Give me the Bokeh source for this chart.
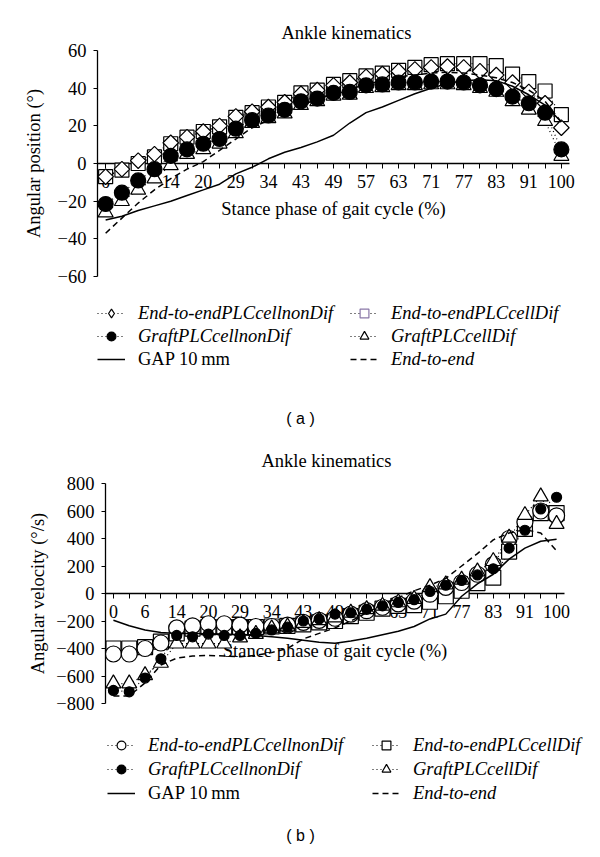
import math
from bokeh.plotting import figure
from bokeh.models import Range1d, LinearAxis, FixedTicker, Label, Legend, LegendItem
from bokeh.layouts import column, row
from bokeh.embed import file_html
from bokeh.resources import INLINE

# ---------------- data ----------------
stance_pct = [0, 3, 6, 10, 14, 17, 20, 26, 29, 31, 34, 40, 43, 46, 49, 54, 57,
              60, 63, 69, 71, 74, 77, 80, 83, 89, 91, 94, 100]

# (a) angular position (deg)
pos_e2e_nondif = [-7, -3, 1.5, 5, 11, 14, 17, 20, 25, 27.5, 30, 32.5, 37, 39, 41.5,
                  43, 46, 47.5, 49, 50, 51, 51.5, 51, 49, 47, 43, 38, 32, 19]
pos_e2e_dif = [-7, -3.5, 0, 3.5, 10.5, 14, 17, 19.5, 24.5, 27, 30, 32.5, 37.5, 39, 42,
               44, 46.5, 48, 49.5, 51, 52.5, 53, 53, 53, 52, 47.5, 43.5, 38.5, 26]
pos_graft_nondif = [-21.5, -15.5, -9, -3, 4, 7.5, 10.5, 13, 18.5, 23, 25.5, 28.5, 33,
                    34.5, 37.5, 38, 41.5, 42, 43, 43, 43.5, 43.5, 43, 41.5, 39.5, 35.5,
                    32, 27, 7.5]
pos_graft_dif = [-26, -20, -14, -8, -1, 5, 7.5, 10.5, 16, 21.5, 24, 26.5, 31, 33, 36,
                 36.5, 40, 40.5, 41.5, 41.5, 42, 42, 41.5, 40, 38, 33, 28.5, 22.5, 4]
pos_gap10 = [-30, -28, -25, -22.5, -20, -17, -14, -11, -5.5, -2, 2.5, 6, 8.5, 11.5, 15,
             21.5, 27, 30, 33.5, 37, 40, 42.5, 44, 44.5, 44, 41, 36.5, 31, 22]
pos_end_to_end = [-37, -29, -21, -14, -8, -3, 1, 7, 13, 19, 23, 27, 31, 34, 37, 39.5,
                  42, 44, 46, 47, 48, 48.5, 48, 47, 45.5, 43, 39, 33, 22]
pos_ticks = [-60, -40, -20, 0, 20, 40, 60]

# (b) angular velocity (deg/s)
vel_e2e_nondif = [-440, -440, -400, -360, -250, -235, -220, -220, -230, -240, -240,
                  -230, -210, -195, -180, -150, -125, -100, -75, -55, -5, 45, 80, 140,
                  210, 400, 520, 600, 565]
vel_e2e_dif = [-400, -400, -390, -350, -290, -255, -245, -245, -245, -245, -240, -235,
               -225, -210, -200, -165, -140, -110, -90, -85, -60, -20, 20, 75, 115, 305,
               470, 585, 585]
vel_graft_nondif = [-705, -715, -615, -475, -305, -315, -295, -305, -305, -290, -265,
                    -245, -200, -185, -150, -140, -115, -90, -65, -45, 15, 60, 95, 135,
                    180, 330, 460, 615, 700]
vel_graft_dif = [-655, -655, -595, -505, -365, -365, -365, -365, -320, -295, -255, -240,
                 -215, -195, -175, -140, -115, -90, -65, -40, 45, 65, 100, 160, 235, 405,
                 570, 705, 505]
vel_gap10 = [-195, -235, -265, -283, -290, -290, -292, -295, -300, -305, -315, -325,
             -340, -355, -362, -345, -325, -300, -275, -240, -185, -150, -20, 70, 140,
             250, 330, 380, 395]
vel_end_to_end = [-745, -745, -650, -520, -470, -455, -450, -455, -460, -450, -430,
                  -400, -330, -290, -250, -200, -140, -80, -30, 20, 60, 110, 200, 290,
                  390, 440, 465, 440, 310]
vel_ticks = [-800, -600, -400, -200, 0, 200, 400, 600, 800]

SERIF = "Liberation Serif"
SANS = "Liberation Sans"
PAGE_LEFT = 0
PAGE_RIGHT = 592
LAB_W = 50          # narrow strip that carries the rotated y-axis title
FS = "18.5px"
NAN = float("nan")


def minus(v):
    return str(v).replace("-", "\u2212")


def ylabel_strip(top, h, text, x_px, y_px):
    f = figure(width=LAB_W, height=h, output_backend="svg", toolbar_location=None,
               x_axis_location=None, y_axis_location=None, min_border=0,
               x_range=Range1d(PAGE_LEFT, PAGE_LEFT + LAB_W), y_range=Range1d(top + h, top))
    f.outline_line_color = None
    f.grid.visible = False
    f.xgrid.grid_line_color = None
    f.ygrid.grid_line_color = None
    f.background_fill_color = "white"
    f.border_fill_color = "white"
    f.add_layout(Label(x=x_px, y=y_px, text=text, text_font=SERIF, text_font_size=FS,
                       angle=math.pi / 2, text_align="center", text_baseline="middle",
                       text_color="black"))
    return f


def build(cfg, series):
    n = len(stance_pct)
    xs = list(range(n))
    top, h = cfg["fig_top"], cfg["fig_h"]
    L, R = cfg["frame_left"], cfg["axis_right"]
    ticks = cfg["ticks"]
    ppu = (cfg["px_min"] - cfg["px_max"]) / (ticks[-1] - ticks[0])
    y_top = ticks[-1] + (cfg["px_max"] - top) / ppu
    y_bot = ticks[0] - (top + h - cfg["px_min"]) / ppu
    cw = (R - L) / n
    x_end = -0.5 + (PAGE_RIGHT - L) / cw
    fig_left = PAGE_LEFT + LAB_W

    def xv(px):
        return (px - L) / cw - 0.5

    def yv(py):
        return ticks[-1] - (py - cfg["px_max"]) / ppu

    p = figure(width=PAGE_RIGHT - fig_left, height=h, output_backend="svg",
               toolbar_location=None, x_axis_location=None, y_axis_location="left",
               min_border_left=L - fig_left, min_border_right=0,
               min_border_top=0, min_border_bottom=0,
               x_range=Range1d(-0.5, x_end), y_range=Range1d(y_bot, y_top))
    p.outline_line_color = None
    p.grid.visible = False
    p.background_fill_color = "white"
    p.border_fill_color = "white"

    yax = p.yaxis[0]
    yax.ticker = FixedTicker(ticks=ticks)
    yax.bounds = (ticks[0], ticks[-1])
    yax.major_label_overrides = {t: minus(t) for t in ticks}
    yax.minor_tick_line_color = None
    yax.major_tick_out = 4
    yax.major_tick_in = 0
    yax.major_label_standoff = 7
    yax.major_label_text_font = SERIF
    yax.major_label_text_font_size = FS
    yax.major_label_text_color = "black"
    yax.axis_line_width = 1.3
    yax.axis_line_color = "black"
    yax.major_tick_line_color = "black"

    xax = LinearAxis(fixed_location=0)
    xax.ticker = FixedTicker(ticks=xs)
    xax.bounds = (-0.5, n - 0.5)
    xax.major_label_overrides = {i: (str(v) if i % 2 == 0 else "") for i, v in enumerate(stance_pct)}
    xax.minor_tick_line_color = None
    xax.major_tick_out = 5
    xax.major_tick_in = 0
    xax.major_label_standoff = cfg["xtick_standoff"]
    xax.major_label_text_font = SERIF
    xax.major_label_text_font_size = "18px"
    xax.major_label_text_color = "black"
    xax.axis_line_width = 1.3
    xax.axis_line_color = "black"
    xax.major_tick_line_color = "black"
    xax.axis_label = "Stance phase of gait cycle (%)"
    xax.axis_label_text_font = SERIF
    xax.axis_label_text_font_size = FS
    xax.axis_label_text_font_style = "normal"
    xax.axis_label_text_color = "black"
    xax.axis_label_standoff = cfg["xlabel_standoff"]
    xax.level = "underlay"
    p.add_layout(xax, "below")

    # dotted connectors
    lines = {}
    for key in ["e2e_nondif", "e2e_dif", "graft_nondif", "graft_dif"]:
        lines[key] = p.line(xs, series[key], line_color="black", line_width=1.2,
                            line_dash="1 3")
    marks = {}
    for key in cfg["order"]:
        st = cfg["markers"][key]
        marks[key] = p.scatter(xs, series[key], marker=st["marker"], size=st["size"],
                               angle=st.get("angle", 0.0), fill_color=st["fill"],
                               line_color="black", line_width=1.2)
    r_gap = p.line(xs, series["gap10"], line_color="black", line_width=1.5)
    r_e2e = p.line(xs, series["end_to_end"], line_color="black", line_width=1.5,
                   line_dash="6 4")

    # legend keys: real marker renderers, or a key-only proxy where the key differs
    keys = {}
    for key in ["e2e_nondif", "e2e_dif", "graft_nondif", "graft_dif"]:
        st = cfg["legend_markers"].get(key)
        if st is None:
            keys[key] = marks[key]
        else:
            keys[key] = p.scatter(x=[NAN], y=[NAN], marker=st["marker"], size=8,
                                  fill_color=st["fill"], line_color=st["line"],
                                  line_width=1.2)

    LH = 22

    def mk_legend(items, style, xpx, row1_px, nrows):
        lg = Legend(items=items, orientation="vertical")
        lg.label_text_font = SERIF
        lg.label_text_font_size = FS
        lg.label_text_font_style = style
        lg.label_text_color = "black"
        lg.glyph_width = 28
        lg.glyph_height = LH
        lg.label_height = LH
        lg.label_standoff = 13
        lg.spacing = cfg["leg_spacing"]
        lg.padding = 0
        lg.margin = 0
        lg.border_line_color = None
        lg.background_fill_alpha = 0
        height = nrows * LH + (nrows - 1) * cfg["leg_spacing"]
        bottom_px = row1_px - LH / 2 + height
        lg.location = (xpx - L, top + h - bottom_px)
        p.add_layout(lg)

    rows = cfg["leg_rows"]
    names = cfg["names"]
    mk_legend([LegendItem(label=names["e2e_nondif"], renderers=[lines["e2e_nondif"], keys["e2e_nondif"]]),
               LegendItem(label=names["graft_nondif"], renderers=[lines["graft_nondif"], keys["graft_nondif"]])],
              "italic", cfg["leg_x1"], rows[0], 2)
    mk_legend([LegendItem(label="GAP 10\u2009mm", renderers=[r_gap])],
              "normal", cfg["leg_x1"], rows[2], 1)
    mk_legend([LegendItem(label=names["e2e_dif"], renderers=[lines["e2e_dif"], keys["e2e_dif"]]),
               LegendItem(label=names["graft_dif"], renderers=[lines["graft_dif"], keys["graft_dif"]]),
               LegendItem(label="End-to-end", renderers=[r_e2e])],
              "italic", cfg["leg_x2"], rows[0], 3)

    tx, ty = cfg["title_px"]
    p.add_layout(Label(x=xv(tx), y=yv(ty), text="Ankle kinematics", text_font=SERIF,
                       text_font_size=FS, text_align="center", text_baseline="middle",
                       text_color="black"))
    cx, cy = cfg["caption_px"]
    p.add_layout(Label(x=xv(cx), y=yv(cy), text=cfg["caption"], text_font=SANS,
                       text_font_size="16px", text_align="center", text_baseline="middle",
                       text_color="black"))

    lx, ly = cfg["ylabel_px"]
    strip = ylabel_strip(top, h, cfg["ylabel"], lx, ly)
    return row(strip, p, spacing=0)


names_common = {"e2e_nondif": "End-to-endPLCcellnonDif", "e2e_dif": "End-to-endPLCcellDif",
                "graft_nondif": "GraftPLCcellnonDif", "graft_dif": "GraftPLCcellDif"}

cfg_a = dict(fig_top=0, fig_h=440, frame_left=97, axis_right=569, ticks=pos_ticks,
             px_max=50, px_min=276, ylabel="Angular position (\u00b0)", ylabel_px=(33, 163),
             xtick_standoff=6, xlabel_standoff=8,
             order=["e2e_dif", "e2e_nondif", "graft_dif", "graft_nondif"],
             markers={"e2e_nondif": dict(marker="square", size=11, angle=math.pi / 4, fill="white"),
                      "e2e_dif": dict(marker="square", size=14, fill="white"),
                      "graft_nondif": dict(marker="circle", size=15, fill="black"),
                      "graft_dif": dict(marker="triangle", size=15, fill="white")},
             legend_markers={"e2e_nondif": dict(marker="diamond", fill="white", line="black"),
                             "e2e_dif": dict(marker="square", fill="white", line="#8a78a8")},
             names=names_common, leg_x1=97, leg_x2=350, leg_rows=[313, 336, 359],
             leg_spacing=1, title_px=(346, 32), caption_px=(300, 418), caption="( a )")

series_a = {"e2e_nondif": pos_e2e_nondif, "e2e_dif": pos_e2e_dif,
            "graft_nondif": pos_graft_nondif, "graft_dif": pos_graft_dif,
            "gap10": pos_gap10, "end_to_end": pos_end_to_end}

cfg_b = dict(fig_top=440, fig_h=409, frame_left=105, axis_right=564, ticks=vel_ticks,
             px_max=483, px_min=703, ylabel="Angular velocity (\u00b0/s)", ylabel_px=(37, 593),
             xtick_standoff=6, xlabel_standoff=20,
             order=["e2e_dif", "e2e_nondif", "graft_dif", "graft_nondif"],
             markers={"e2e_nondif": dict(marker="circle", size=16, fill="white"),
                      "e2e_dif": dict(marker="square", size=15, fill="white"),
                      "graft_nondif": dict(marker="circle", size=10, fill="black"),
                      "graft_dif": dict(marker="triangle", size=15, fill="white")},
             legend_markers={},
             names=names_common, leg_x1=107, leg_x2=372, leg_rows=[745, 769, 793],
             leg_spacing=2, title_px=(326, 460), caption_px=(300, 835), caption="( b )")

series_b = {"e2e_nondif": vel_e2e_nondif, "e2e_dif": vel_e2e_dif,
            "graft_nondif": vel_graft_nondif, "graft_dif": vel_graft_dif,
            "gap10": vel_gap10, "end_to_end": vel_end_to_end}

row_a = build(cfg_a, series_a)
row_b = build(cfg_b, series_b)

layout = column(row_a, row_b, spacing=0)
open("out.html", "w").write(file_html(layout, INLINE))
